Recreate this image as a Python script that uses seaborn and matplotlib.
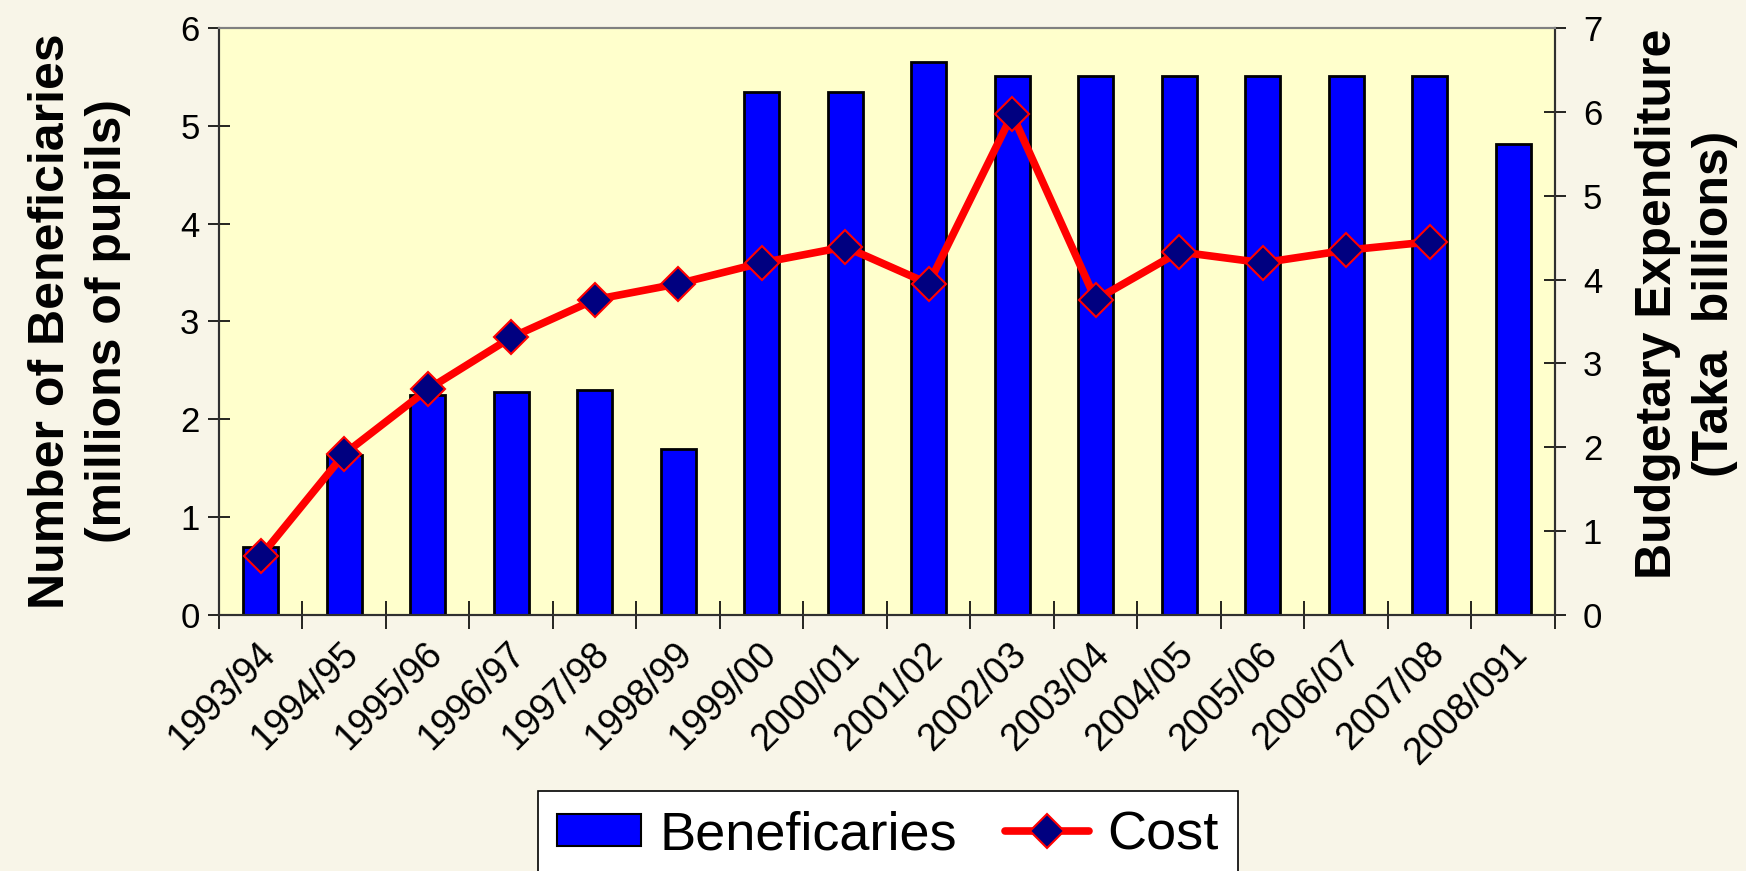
import numpy as np
import pandas as pd
import matplotlib
matplotlib.use("Agg")
import matplotlib.pyplot as plt
import matplotlib.transforms as mtransforms
from matplotlib.patches import Patch
from matplotlib.lines import Line2D
import seaborn as sns

# Data
years = ["1993/94", "1994/95", "1995/96", "1996/97", "1997/98", "1998/99",
         "1999/00", "2000/01", "2001/02", "2002/03", "2003/04", "2004/05",
         "2005/06", "2006/07", "2007/08", "2008/091"]
beneficiaries = [0.70, 1.64, 2.25, 2.28, 2.30, 1.70, 5.35, 5.35,
                 5.65, 5.51, 5.51, 5.51, 5.51, 5.51, 5.51, 4.81]
# no cost value for 2008/091
cost = [0.70, 1.92, 2.69, 3.31, 3.76, 3.95, 4.20, 4.39,
        3.95, 5.97, 3.76, 4.33, 4.20, 4.35, 4.45]

sns.set_theme(style="white")
plt.rcParams['font.family'] = ['Liberation Sans', 'DejaVu Sans']
plt.rcParams['text.color'] = 'black'
plt.rcParams['axes.labelcolor'] = 'black'
plt.rcParams['xtick.color'] = 'black'
plt.rcParams['ytick.color'] = 'black'

XSIZE = 27
YSIZE = 25

fig = plt.figure(figsize=(17.46, 8.71), dpi=100, facecolor="#f8f5e8")
ax = fig.add_axes([0.1254, 0.2939, 0.7652, 0.674])
ax.set_facecolor("#ffffcc")

# Bars - beneficiaries
df = pd.DataFrame({"Year": years, "Beneficiaries": beneficiaries})
sns.barplot(data=df, x="Year", y="Beneficiaries", color="#0000ff", saturation=1,
            width=0.42, edgecolor="black", linewidth=2, ax=ax)

# Line - cost on the right axis
ax2 = ax.twinx()
cost_df = pd.DataFrame({"pos": np.arange(len(cost)), "Cost": cost})
sns.lineplot(data=cost_df, x="pos", y="Cost", ax=ax2, color="red", linewidth=5.5,
             marker="D", markersize=17, markerfacecolor="#000080",
             markeredgecolor="red", markeredgewidth=1.5, errorbar=None)

ax.set_xlim(-0.5, len(years) - 0.5)
ax.set_ylim(0, 6)
ax2.set_ylim(0, 7)
ax.set_yticks(range(7))
ax2.set_yticks(range(8))

# x labels at category centres, tick marks at boundaries
ax.set_xticks(np.arange(len(years)))
ax.set_xticks(np.arange(-0.5, len(years)), minor=True)
ax.tick_params(axis="x", which="major", bottom=True, length=0, pad=15, labelsize=XSIZE)
ax.tick_params(axis="x", which="minor", bottom=True, direction="inout", length=20, width=1.2)
ax.set_xticklabels(years)

ax.tick_params(axis="y", left=True, direction="inout", length=16, width=1.2, labelsize=YSIZE, pad=6)
ax2.tick_params(axis="y", right=True, direction="inout", length=16, width=1.2, labelsize=YSIZE, pad=12)

for a in (ax, ax2):
    a.grid(False)
    a.spines["top"].set_color("#808080")
    a.spines["top"].set_linewidth(1.5)
    for s in ("left", "right", "bottom"):
        a.spines[s].set_color("#303030")
        a.spines[s].set_linewidth(1.5)

ax.set_xlabel("")
ax2.set_xlabel("")
ax.set_ylabel("Number of Beneficiaries\n(millions of pupils)", fontsize=36,
              fontweight="bold", linespacing=1.3)
ax.yaxis.set_label_coords(-0.066, 0.5)
ax2.set_ylabel("Budgetary Expenditure\n(Taka  billions)", fontsize=36,
               fontweight="bold", linespacing=1.3)
ax2.yaxis.set_label_coords(1.06, 0.53)

# Legend
handles = [Patch(facecolor="#0000ff", edgecolor="black", linewidth=1.5),
           Line2D([], [], color="red", lw=5.5, marker="D", ms=17,
                  mfc="#000080", mec="red", mew=1.5)]
leg = fig.legend(handles, ["Beneficaries", "Cost"], loc="upper center",
                 bbox_to_anchor=(0.5086, 0.0918), ncol=2, fontsize=39,
                 frameon=True, fancybox=False, edgecolor="black",
                 facecolor="white", framealpha=1, borderpad=0.35,
                 handlelength=1.55, handletextpad=0.35, columnspacing=0.87,
                 handleheight=0.55, borderaxespad=0)
leg.get_frame().set_linewidth(1.2)

# rotate and nudge the x labels last so nothing resets them
shift = mtransforms.ScaledTranslation(-4 / 100, 0, fig.dpi_scale_trans)
for lab in ax.get_xticklabels():
    lab.set_fontsize(XSIZE)
    lab.set_rotation(45)
    lab.set_ha("right")
    lab.set_va("top")
    lab.set_rotation_mode("anchor")
    lab.set_transform(lab.get_transform() + shift)
for lab in ax.get_yticklabels() + ax2.get_yticklabels():
    lab.set_fontsize(YSIZE)

fig.savefig("out.png", dpi=100, facecolor=fig.get_facecolor())
